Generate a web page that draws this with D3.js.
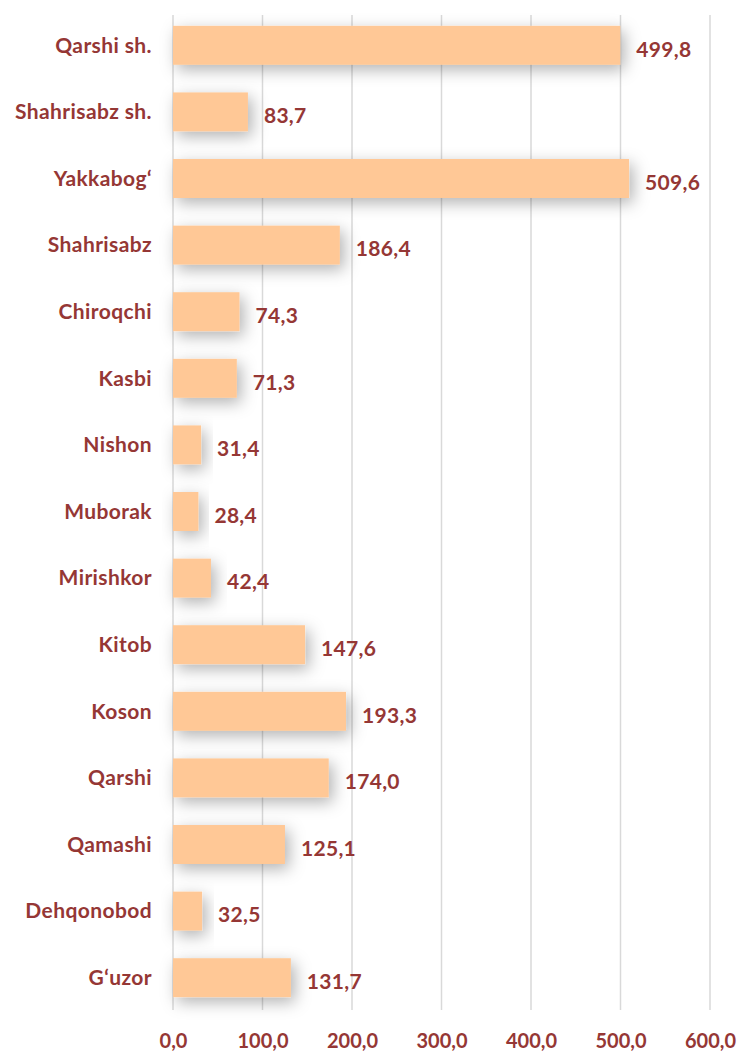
<!DOCTYPE html>
<html>
<head>
<meta charset="utf-8">
<script src="https://cdn.jsdelivr.net/npm/d3@7"></script>
<style>
  body { margin: 0; background: #fff; }
  text { font-family: Lato, "Open Sans", sans-serif; font-weight: bold; fill: #953735; }
</style>
</head>
<body>
<svg width="741" height="1054"></svg>
<script>
// districts, top to bottom
var categories = ["Qarshi sh.", "Shahrisabz sh.", "Yakkabog‘", "Shahrisabz", "Chiroqchi", "Kasbi",
  "Nishon", "Muborak", "Mirishkor", "Kitob", "Koson", "Qarshi", "Qamashi", "Dehqonobod", "G‘uzor"];
var values = [499.8, 83.7, 509.6, 186.4, 74.3, 71.3, 31.4, 28.4, 42.4, 147.6, 193.3, 174.0, 125.1, 32.5, 131.7];
var tickValues = [0, 100, 200, 300, 400, 500, 600];

var svg = d3.select("svg"),
    margin = {top: 12, right: 31, bottom: 43, left: 173},
    width = +svg.attr("width") - margin.left - margin.right,
    height = +svg.attr("height") - margin.top - margin.bottom,
    g = svg.append("g").attr("transform", "translate(" + margin.left + "," + margin.top + ")");

var fmt = function(v) { return d3.format(".1f")(v).replace(".", ","); };

var x = d3.scaleLinear().domain([0, 600]).range([0, width]);
var y = d3.scaleBand().domain(categories).range([0, height]).paddingInner(0.415).paddingOuter(0.2075);

var defs = svg.append("defs");
var f = defs.append("filter").attr("id", "shadow")
    .attr("x", "-40%").attr("y", "-80%").attr("width", "180%").attr("height", "260%");
f.append("feDropShadow").attr("dx", 4).attr("dy", 5).attr("stdDeviation", 8)
    .attr("flood-color", "#000").attr("flood-opacity", 0.3);

// gridlines
g.selectAll(".grid")
  .data(tickValues)
  .enter().append("line")
    .attr("class", "grid")
    .attr("x1", function(d) { return x(d); })
    .attr("x2", function(d) { return x(d); })
    .attr("y1", 3).attr("y2", height - 1)
    .attr("stroke", "#d9d9d9").attr("stroke-width", 1.5);

g.selectAll(".bar")
  .data(values)
  .enter().append("rect")
    .attr("class", "bar")
    .attr("x", x(0))
    .attr("y", function(d, i) { return y(categories[i]); })
    .attr("width", function(d) { return x(d) - x(0); })
    .attr("height", y.bandwidth())
    .attr("fill", "#ffc896")
    .attr("filter", "url(#shadow)");

g.selectAll(".val")
  .data(values)
  .enter().append("text")
    .attr("class", "val")
    .attr("x", function(d) { return x(d) + 16; })
    .attr("y", function(d, i) { return y(categories[i]) + y.bandwidth() / 2 + 4; })
    .attr("dy", "0.35em")
    .style("font-size", "21px")
    .style("letter-spacing", "0.3px")
    .text(fmt);

g.selectAll(".cat")
  .data(categories)
  .enter().append("text")
    .attr("class", "cat")
    .attr("x", -21)
    .attr("y", function(d) { return y(d) + y.bandwidth() / 2; })
    .attr("dy", "0.35em")
    .attr("text-anchor", "end")
    .style("font-size", "21px")
    .style("letter-spacing", "0.4px")
    .text(function(d) { return d; });

// x axis labels
var xAxis = d3.axisBottom(x).tickValues(tickValues).tickFormat(fmt).tickSize(0).tickPadding(23);
var ax = g.append("g").attr("transform", "translate(0," + height + ")").call(xAxis);
ax.select(".domain").remove();
ax.selectAll("text").style("font-size", "20px").attr("fill", "#953735")
  .style("font-family", "Lato, 'Open Sans', sans-serif").style("font-weight", "bold");
</script>
</body>
</html>
